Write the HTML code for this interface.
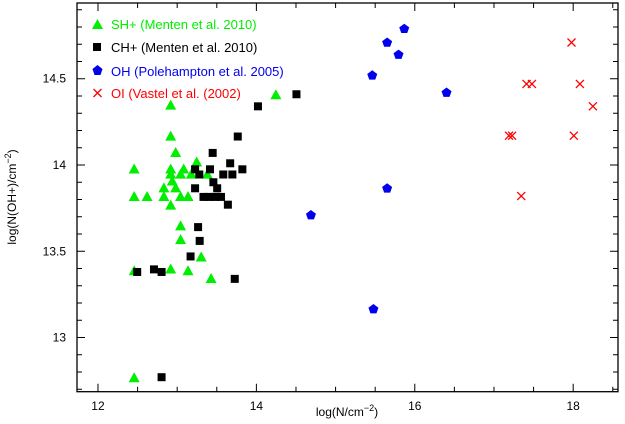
<!DOCTYPE html>
<html><head><meta charset="utf-8"><style>
html,body{margin:0;padding:0;background:#fff;}
svg{display:block;font-family:"Liberation Sans",sans-serif;}
</style></head><body>
<svg id="chart" width="625" height="424" xmlns="http://www.w3.org/2000/svg">
<rect x="0" y="0" width="625" height="424" fill="#fff"/>
<g id="axes"></g>
<g id="marks"></g>
<g id="legend">
  <polygon points="92,29 97.5,19 103,29" fill="#00ee00"/>
  <text x="111" y="29" font-size="13" fill="#00ee00">SH+ (Menten et al. 2010)</text>
  <rect x="93" y="43" width="8" height="8" fill="#000"/>
  <text x="111" y="52" font-size="13" fill="#000">CH+ (Menten et al. 2010)</text>
  <polygon points="97.5,65 102.5,69 100.5,75 94.5,75 92.5,69" fill="#0000ee"/>
  <text x="111" y="76" font-size="13" fill="#0000ee">OH (Polehampton et al. 2005)</text>
  <path d="M93.5,89 L101.5,97 M101.5,89 L93.5,97" stroke="#ff0000" stroke-width="1.3"/>
  <text x="111" y="98" font-size="13" fill="#ff0000">OI (Vastel et al. (2002)</text>
</g>
<text x="347" y="416" font-size="12" text-anchor="middle">log(N/cm<tspan dy="-5" font-size="9">−2</tspan><tspan dy="5">)</tspan></text>
<text transform="translate(16,197) rotate(-90)" font-size="12" text-anchor="middle">log(N(OH+)/cm<tspan dy="-5" font-size="9">−2</tspan><tspan dy="5">)</tspan></text>
</svg>
<script>
const shpX=[12.918,12.918,12.981,12.457,12.918,13.082,13.246,12.918,13.043,13.178,13.380,12.938,12.832,12.981,12.457,12.620,12.832,13.043,13.137,12.918,13.043,13.043,13.303,12.457,12.918,13.137,13.428,12.457,14.246];
const shpY=[14.35,14.17,14.075,13.98,13.98,13.98,14.02,13.95,13.95,13.95,13.95,13.91,13.87,13.87,13.82,13.82,13.82,13.82,13.82,13.77,13.65,13.57,13.47,13.39,13.40,13.39,13.345,12.77,14.41];
const chpX=[14.020,13.765,13.448,13.669,13.226,13.414,13.823,13.279,13.582,13.697,13.457,13.505,13.226,13.332,13.399,13.476,13.553,13.640,13.264,13.284,13.169,12.495,12.707,12.803,13.727,12.803,14.506];
const chpY=[14.34,14.165,14.07,14.01,13.975,13.975,13.975,13.945,13.945,13.945,13.90,13.865,13.865,13.815,13.815,13.815,13.815,13.77,13.64,13.56,13.47,13.38,13.395,13.38,13.34,12.77,14.41];
const ohX=[15.867,15.651,15.795,15.463,16.401,15.651,14.689,15.478];
const ohY=[14.79,14.71,14.64,14.52,14.42,13.865,13.71,13.165];
const oiX=[17.979,17.411,17.479,18.085,18.249,17.190,17.229,18.008,17.344];
const oiY=[14.71,14.47,14.47,14.47,14.34,14.17,14.17,14.17,13.82];
const xTickLabels=["12","14","16","18"];
const yTickLabels=["13","13.5","14","14.5"];

const L=77,R=618,T=3,B=391.7;
const XMIN=11.735,XMAX=18.566,YMIN=12.686,YMAX=14.939;
const sx=v=>L+(v-XMIN)/(XMAX-XMIN)*(R-L);
const sy=v=>B-(v-YMIN)/(YMAX-YMIN)*(B-T);
const NS="http://www.w3.org/2000/svg";
function mk(tag,attrs,parent){const e=document.createElementNS(NS,tag);for(const k in attrs)e.setAttribute(k,attrs[k]);parent.appendChild(e);return e;}
const axes=document.getElementById('axes'),marks=document.getElementById('marks');
let f=mk('rect',{x:L,y:T,width:R-L,height:B-T,fill:'none',stroke:'#000','stroke-width':1.3},axes);


for(let i=24;i<=37;i++){const v=i/2;const x=sx(v);const maj=(i%4===0);const len=maj?8:5;
 let t=mk('path',{d:`M${x},${B} V${B-len} M${x},${T} V${T+len}`,stroke:'#000','stroke-width':1},axes);
 
 
}
xTickLabels.forEach(s=>{const v=parseFloat(s);
 let t=mk('text',{x:sx(v),y:410,'font-size':12,'text-anchor':'middle'},axes);t.textContent=s;
 
 
});
for(let i=127;i<=149;i++){const v=i/10;const y=sy(v);const maj=(i%5===0);const len=maj?8:5;
 let t=mk('path',{d:`M${L},${y} H${L+len} M${R},${y} H${R-len}`,stroke:'#000','stroke-width':1},axes);
 
 
}
yTickLabels.forEach(s=>{const v=parseFloat(s);
 let t=mk('text',{x:66,y:sy(v)+4,'font-size':12,'text-anchor':'end'},axes);t.textContent=s;
 
 
});
shpX.forEach((xv,i)=>{const x=sx(xv),y=sy(shpY[i]);
 let p=mk('polygon',{points:`${x-5.5},${y+5} ${x},${y-5} ${x+5.5},${y+5}`,fill:'#00ee00'},marks);
 
 
});
chpX.forEach((xv,i)=>{const x=sx(xv),y=sy(chpY[i]);
 let p=mk('rect',{x:x-4,y:y-4,width:8,height:8,fill:'#000'},marks);
 
 
});
ohX.forEach((xv,i)=>{const x=sx(xv),y=sy(ohY[i]);
 let p=mk('polygon',{points:`${x},${y-5} ${x+5},${y-1.3} ${x+3},${y+4.3} ${x-3},${y+4.3} ${x-5},${y-1.3}`,fill:'#0000ee'},marks);
 
 
});
oiX.forEach((xv,i)=>{const x=sx(xv),y=sy(oiY[i]);
 let p=mk('path',{d:`M${x-4},${y-4} L${x+4},${y+4} M${x+4},${y-4} L${x-4},${y+4}`,stroke:'#ff0000','stroke-width':1.3},marks);
 
 
});
</script>
</body></html>
